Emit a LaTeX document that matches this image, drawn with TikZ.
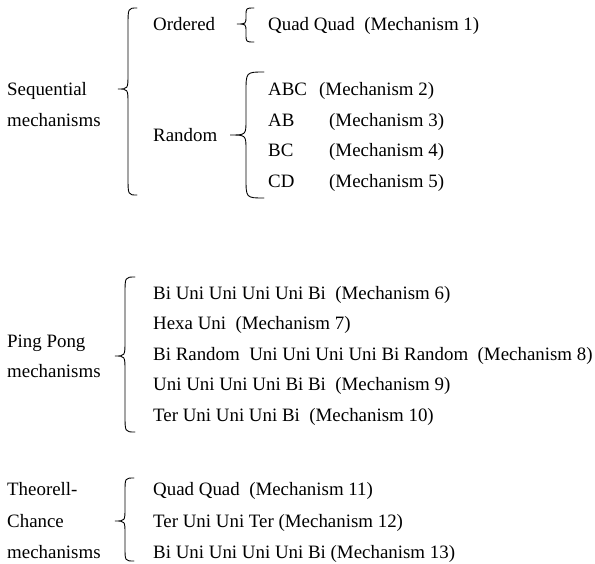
\documentclass[tikz,border=0pt]{standalone}
\usepackage{fontspec}
\setmainfont{Liberation Serif}
\tikzset{
  lbl/.style={anchor=base west,inner sep=0pt,font=\fontsize{18.9}{22}\selectfont},
  brc/.style={line width=0.9pt,line cap=round}
}
% #1 arm x, #2 spine x, #3 tip x, #4 top y, #5 tip y, #6 bottom y, #7 arm radius, #8 tip radius
\newcommand\curlybrace[8]{%
  \draw[brc] (#1,#4) .. controls (#2,#4) .. (#2,#4+#7) -- (#2,#5-#8)
    .. controls (#2,#5) .. (#3,#5) .. controls (#2,#5) .. (#2,#5+#8)
    -- (#2,#6-#7) .. controls (#2,#6) .. (#1,#6);}
\begin{document}
\begin{tikzpicture}[x=1pt,y=-1pt]
\useasboundingbox (0,0) rectangle (595,563);
% Sequential
\node[lbl] (seq1) at (7,95) {Sequential};
\node[lbl] (seq2) at (7,126) {mechanisms};
\curlybrace{137}{128}{118}{8}{89}{195}{18}{15}
\node[lbl] (ord) at (153,30) {Ordered};
\curlybrace{254}{246}{237}{8}{24}{42}{8}{8}
\node[lbl] (m1) at (268,30) {Quad Quad~ (Mechanism 1)};
\node[lbl] (rnd) at (153,141) {Random};
\curlybrace{264}{246}{230}{72}{135}{198}{20}{15}
\node[lbl] (m2) at (268,95) {\makebox[51pt][l]{ABC}(Mechanism 2)};
\node[lbl] (m3) at (268,126) {\makebox[61pt][l]{AB}(Mechanism 3)};
\node[lbl] (m4) at (268,156) {\makebox[61pt][l]{BC}(Mechanism 4)};
\node[lbl] (m5) at (268,187) {\makebox[61pt][l]{CD}(Mechanism 5)};
% Ping Pong
\node[lbl] (pp1) at (7,347) {Ping Pong};
\node[lbl] (pp2) at (7,377) {mechanisms};
\curlybrace{135}{125}{115}{277}{356}{432}{17}{15}
\node[lbl] (m6) at (153,299) {Bi Uni Uni Uni Uni Bi~ (Mechanism 6)};
\node[lbl] (m7) at (153,329) {Hexa Uni~ (Mechanism 7)};
\node[lbl] (m8) at (153,360) {Bi Random~ Uni Uni Uni Uni Bi Random~ (Mechanism 8)};
\node[lbl] (m9) at (153,390) {Uni Uni Uni Uni Bi Bi~ (Mechanism 9)};
\node[lbl] (m10) at (153,421) {Ter Uni Uni Uni Bi~ (Mechanism 10)};
% Theorell-Chance
\node[lbl] (tc1) at (7,495) {Theorell-};
\node[lbl] (tc2) at (7,527) {Chance};
\node[lbl] (tc3) at (7,558) {mechanisms};
\curlybrace{134}{125}{115}{478}{521}{561}{14}{13}
\node[lbl] (m11) at (153,495) {Quad Quad~ (Mechanism 11)};
\node[lbl] (m12) at (153,527) {Ter Uni Uni Ter (Mechanism 12)};
\node[lbl] (m13) at (153,558) {Bi Uni Uni Uni Uni Bi (Mechanism 13)};
\end{tikzpicture}
\end{document}
